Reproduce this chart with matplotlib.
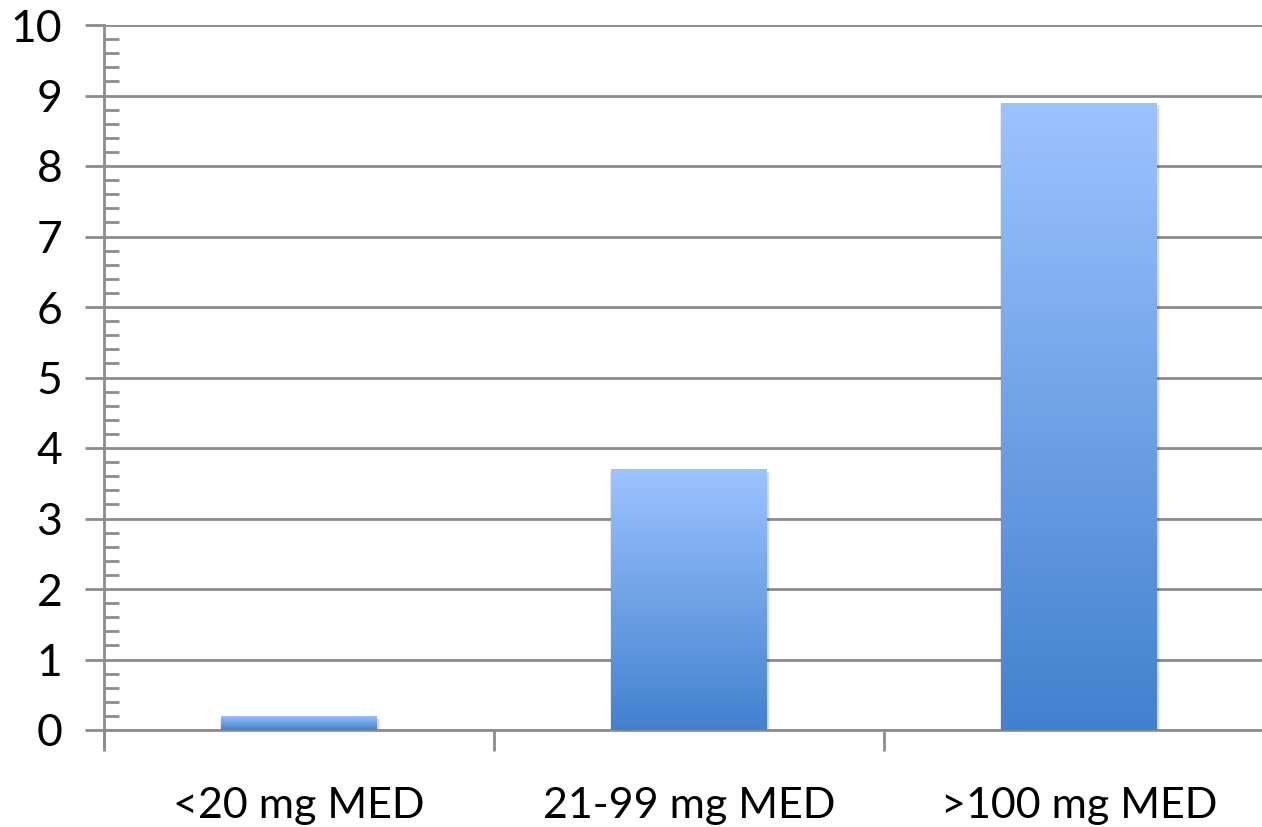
import numpy as np
import matplotlib
matplotlib.use('Agg')
import matplotlib.pyplot as plt
from matplotlib.colors import LinearSegmentedColormap
from matplotlib.ticker import MultipleLocator

categories = ['<20 mg MED', '21-99 mg MED', '>100 mg MED']
values = [0.2, 3.7, 8.9]

plt.rcParams['font.family'] = ['Lato', 'DejaVu Sans']

fig = plt.figure(figsize=(12.62, 8.27), dpi=100)
ax = fig.add_axes([104 / 1262, 97 / 827, 1170 / 1262, 705 / 827])

grad = LinearSegmentedColormap.from_list('bar', ['#4281ce', '#9dc3ff'])
gray = '#8c8c8c'
width = 0.4
x = np.arange(len(categories))

for xi, v in zip(x, values):
    # soft shadow
    for k, a in enumerate([0.06, 0.05, 0.04]):
        off = 0.004 * (k + 1)
        ax.add_patch(plt.Rectangle((xi - width / 2 - off * 0.3, -0.04 - off * 2),
                                   width + off * 0.6 + 0.004, v + off * 2,
                                   color='black', alpha=a, lw=0, zorder=2))
    bar = ax.bar(xi, v, width, color='none', zorder=3)[0]
    img = np.linspace(0, 1, 256).reshape(-1, 1)
    im = ax.imshow(img, cmap=grad, origin='lower', aspect='auto',
                   extent=(xi - width / 2, xi + width / 2, 0, v), zorder=3)
    im.set_clip_path(bar)

ax.set_xlim(-0.5, 2.5)
ax.set_ylim(0, 10)

ax.yaxis.set_major_locator(MultipleLocator(1))
ax.yaxis.set_minor_locator(MultipleLocator(0.2))
ax.grid(axis='y', color=gray, lw=2, zorder=1)
ax.set_axisbelow(True)

ax.set_xticks([-0.5, 0.5, 1.5])
ax.set_xticklabels([])
ax.set_xticks(x, minor=True)
ax.set_xticklabels(categories, minor=True, fontsize=31)
ax.tick_params(axis='x', which='major', length=15, width=2, color=gray, direction='out')
ax.tick_params(axis='x', which='minor', length=0, pad=41)

ax.tick_params(axis='y', which='major', length=14, width=2, color=gray,
               direction='out', labelsize=32, pad=16)
ax.tick_params(axis='y', which='minor', length=11, width=2, color=gray, direction='in')

for s in ['top', 'right']:
    ax.spines[s].set_visible(False)
for s in ['left', 'bottom']:
    ax.spines[s].set_color(gray)
    ax.spines[s].set_linewidth(2)
ax.spines['left'].set_bounds(-0.22, 10)

fig.savefig('out.png', dpi=100)
